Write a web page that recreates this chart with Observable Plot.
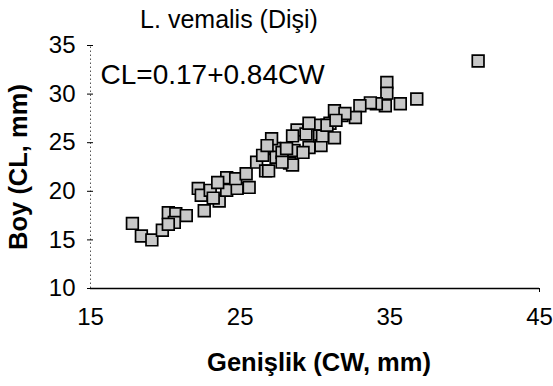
<!DOCTYPE html>
<html>
<head>
<meta charset="utf-8">
<script src="https://cdn.jsdelivr.net/npm/d3@7"></script>
<script src="https://cdn.jsdelivr.net/npm/@observablehq/plot@0.6"></script>
<style>
  html, body { margin: 0; padding: 0; background: #fff; }
  svg { font-family: "Liberation Sans", Arial, sans-serif; }
</style>
</head>
<body>
<div id="chart"></div>
<script>
// Carapace width (CW, mm) and carapace length (CL, mm)
const cw = [17.8,18.4,19.1,19.8,20.2,20.7,21.4,20.6,20.2,
  22.2,22.4,22.6,23.0,23.6,24.1,24.1,24.8,24.7,23.5,23.2,
  25.4,25.6,26.1,26.7,26.9,27.3,27.4,27.1,27.8,28.3,28.6,28.8,28.5,29.4,29.6,30.3,29.6,30.3,31.0,
  26.5,26.8,28.1,28.5,29.2,27.8,30.4,31.3,30.5,31.8,31.3,30.8,
  34.8,34.8,34.7,34.1,33.7,33.0,35.7,36.8,32.7,32.0,31.4,40.9];
const cl = [16.7,15.4,15.0,16.0,17.8,17.7,17.5,16.8,16.6,
  20.3,19.6,18.0,20.1,19.0,20.1,21.4,20.3,21.3,20.9,19.3,
  21.8,20.4,23.0,22.1,22.1,24.4,23.5,25.4,24.0,22.9,24.2,26.3,25.7,25.9,24.5,26.8,27.0,25.7,27.0,
  23.7,24.7,24.4,22.7,24.0,23.0,24.7,25.5,25.7,27.8,28.3,26.8,
  31.2,30.1,28.8,29.0,29.1,28.8,29.0,29.5,27.6,28.0,27.3,33.4];
const xTicks = [15, 25, 35, 45];
const yTicks = [10, 15, 20, 25, 30, 35];
const title = "L. vemalis (Dişi)";
const equation = "CL=0.17+0.84CW";
const xTitle = "Genişlik (CW, mm)";
const yTitle = "Boy (CL, mm)";

const data = cw.map((w, i) => ({cw: w, cl: cl[i]}));

const chart = Plot.plot({
  width: 553,
  height: 386,
  marginLeft: 90,
  marginRight: 14,
  marginTop: 45,
  marginBottom: 98,
  style: {fontFamily: "'Liberation Sans', Arial, sans-serif", background: "#fff", color: "#000"},
  x: {type: "linear", domain: [15, 45]},
  y: {type: "linear", domain: [10, 35]},
  marks: [
    // dotted y axis line
    Plot.ruleX([15], {y1: 10, y2: 35, stroke: "#555", strokeWidth: 1, strokeDasharray: "1.5,2.5"}),
    // solid x axis line
    Plot.ruleY([10], {x1: 15, x2: 45, stroke: "#000", strokeWidth: 1.5}),
    Plot.ruleX([45], {y1: 10, y2: 10, insetBottom: -4, stroke: "#000", strokeWidth: 1}),
    Plot.axisY({ticks: yTicks, tickSize: 6, dx: 3, tickPadding: 12, fontSize: 24, label: null, stroke: "#000"}),
    Plot.axisX({ticks: xTicks, tickSize: 0, tickPadding: 19, fontSize: 24, label: null}),
    Plot.dot(data, {x: "cw", y: "cl", symbol: "square", r: 6.6, fill: "#c8c8c8", stroke: "#000", strokeWidth: 1.7}),
    Plot.text([title], {frameAnchor: "top", dx: -86, dy: -18, textAnchor: "middle", lineAnchor: "bottom", fontSize: 25, fill: "#000"}),
    Plot.text([equation], {frameAnchor: "top-left", dx: 10, dy: 38, textAnchor: "start", lineAnchor: "bottom", fontSize: 28, fill: "#000"}),
    Plot.text([xTitle], {frameAnchor: "bottom", dx: 4, dy: 82, textAnchor: "middle", lineAnchor: "bottom", fontSize: 25.5, fontWeight: "bold", fill: "#000"}),
    Plot.text([yTitle], {frameAnchor: "left", dx: -72, rotate: -90, textAnchor: "middle", lineAnchor: "middle", fontSize: 25.5, fontWeight: "bold", fill: "#000"})
  ]
});
document.getElementById("chart").appendChild(chart);
</script>
</body>
</html>
